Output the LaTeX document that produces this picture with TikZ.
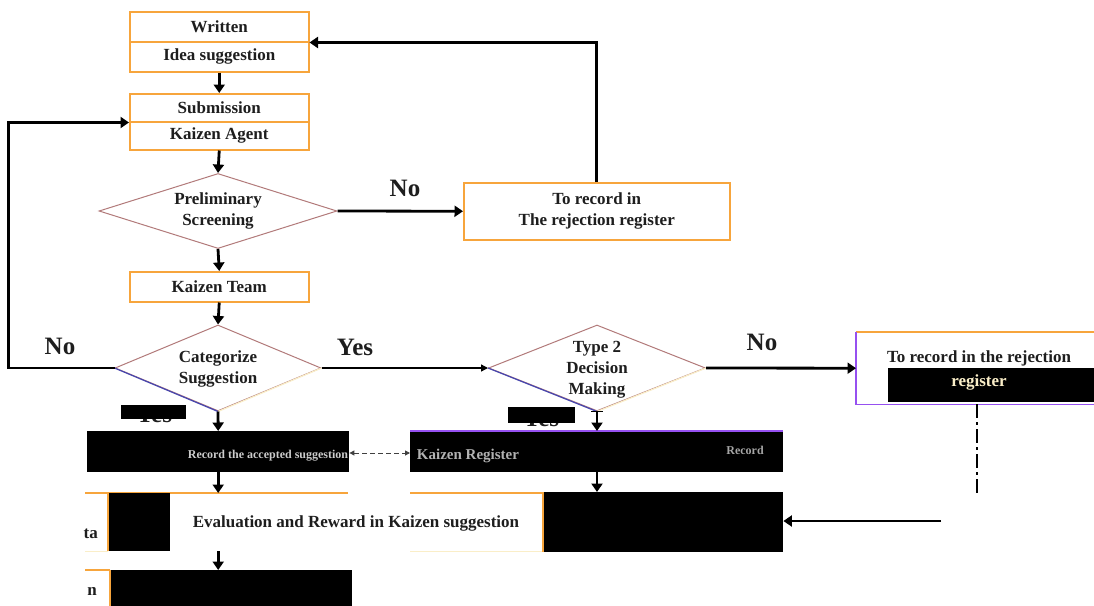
\documentclass[tikz,border=0pt]{standalone}
\usepackage{fontspec}
\setmainfont{Liberation Serif}
\usetikzlibrary{shapes.geometric,arrows.meta}
\definecolor{boxor}{RGB}{247,165,60}
\definecolor{dbrown}{RGB}{178,122,122}
\definecolor{dblue}{RGB}{70,70,175}
\definecolor{purp}{RGB}{150,80,240}
\definecolor{paley}{RGB}{250,238,200}
\definecolor{txt}{RGB}{30,30,30}
\begin{document}
\begin{tikzpicture}[x=1pt,y=-1pt,
  bf/.style={font=\fontsize{17}{21}\selectfont\bfseries},
  box/.style={bf,draw=boxor,line width=1.5pt,minimum width=179pt,anchor=north west,inner sep=0pt,text=txt,align=center},
  dia/.style={shape=diamond,draw=dbrown,line width=1pt,inner sep=0pt},
  dtext/.style={bf,text=txt,align=center,inner sep=0pt},
  flow/.style={line width=2.8pt,-{Triangle[length=8.5pt,width=11pt]}},
  thinflow/.style={line width=1.4pt,-{Triangle[length=7pt,width=7pt]}},
  lbl/.style={font=\fontsize{25}{27}\selectfont\bfseries,text=txt,inner sep=0pt},
  blk/.style={fill=black,draw=none,anchor=north west,inner sep=0pt},
  dashdotline/.style={line width=2pt,dash pattern=on 14pt off 4pt on 3pt off 4pt},
  dbl/.style={line width=1pt,black!75,dash pattern=on 5pt off 3pt,{Triangle[length=5pt,width=5pt]}-{Triangle[length=5pt,width=5pt]}},
]
\path[use as bounding box] (0,0) rectangle (1094,605);
\clip (0,0) rectangle (1094,605);
\fill[white] (0,0) rectangle (1094,605);

% top column
\node[box,minimum height=30pt] (wr) at (129,11) {Written};
\node[box,minimum height=30pt] (id) at (129,41) {Idea suggestion};
\node[box,minimum height=28pt] (sub) at (129,93) {Submission};
\node[box,minimum height=28pt] (ka) at (129,121) {Kaizen Agent};
\node[dia,minimum width=238pt,minimum height=75pt] (ps) at (218,211) {};
\node[dtext] (pst) at (ps.center) {Preliminary\\Screening};
\node[box,minimum height=30pt] (kt) at (129,271) {Kaizen Team};
\node[box,minimum width=266pt,minimum height=57pt] (rej) at (463,182) {To record in\\The rejection register};

% decision diamonds
\node[dia,minimum width=206pt,minimum height=86pt] (cat) at (218,368) {};
\draw[dblue,line width=1.2pt] (cat.west) -- (cat.south);
\draw[paley,line width=1.2pt] (cat.south) -- (cat.east);
\node[dtext] (catt) at (218,369) {Categorize\\Suggestion};
\node[dia,minimum width=217pt,minimum height=86pt] (t2) at (597,368) {};
\draw[dblue,line width=1.2pt] (t2.west) -- (t2.south);
\draw[paley,line width=1.2pt] (t2.south) -- (t2.east);
\node[dtext] (t2t) at (597,370) {Type 2\\Decision\\Making};

% right rejection box
\node[bf,minimum width=260pt,minimum height=72pt,anchor=north west,inner sep=0pt] (rr) at (856,332) {};
\node[blk,minimum width=220pt,minimum height=34pt] (rrb) at (888,368) {};
\draw[boxor,line width=1.5pt] (rr.north west) -- (rr.north east);
\draw[purp,line width=1.5pt] (rr.north west) -- (rr.south west) -- (rr.south east);
\node[dtext] (rrt1) at (979,358) {To record in the rejection};
\node[dtext,text=paley] (rrt2) at (979,382) {register};

% row 1
\node[blk,minimum width=262pt,minimum height=41pt] (r1l) at (87,431) {};
\node[font=\fontsize{12}{14}\selectfont\bfseries,text=black!20,inner sep=0pt] (r1lt) at (268,456) {Record the accepted suggestion};
\node[blk,minimum width=373pt,minimum height=41pt] (r1r) at (410,431) {};
\draw[purp,line width=1.5pt] (r1r.north west) -- (r1r.north east);
\node[font=\fontsize{15}{17}\selectfont\bfseries,text=black!30,inner sep=0pt] (r1rt) at (468,456) {Kaizen Register};
\node[font=\fontsize{12}{14}\selectfont\bfseries,text=black!35,inner sep=0pt] (r1rt2) at (745,450) {Record};

% row 2
\node[minimum width=263pt,minimum height=58pt,anchor=north west,inner sep=0pt] (ev) at (85,493) {};
\draw[boxor,line width=1.5pt] (ev.north west) -- (ev.north east);
\draw[boxor,line width=1.5pt] (410,493) -- (543,493);
\draw[paley,line width=1pt] (85,551) -- (108,551);
\draw[paley,line width=1pt] (410,551) -- (543,551);
\node[blk,minimum width=62pt,minimum height=58pt] (b2l) at (108,493) {};
\draw[boxor,line width=1.5pt] (b2l.north west) -- (b2l.south west);
\node[bf,text=txt,inner sep=0pt,anchor=east] (tat) at (98,534) {ta};
\node[bf,text=txt,inner sep=0pt] (evt) at (356,523) {Evaluation and Reward in Kaizen suggestion};
\node[blk,minimum width=240pt,minimum height=60pt] (b2r) at (543,492) {};
\draw[boxor,line width=1.5pt] (b2r.north west) -- (b2r.south west);

% row 3
\draw[boxor,line width=1.5pt] (85,570) -- (110,570);
\node[blk,minimum width=242pt,minimum height=36pt] (b3) at (110,570) {};
\draw[boxor,line width=1.5pt] (b3.north west) -- (b3.south west);
\node[bf,text=txt,inner sep=0pt,anchor=east] (nt) at (97,591) {n};

% connectors
\draw[flow] (id.south) -- (sub.north);
\draw[flow] (ka.south) -- (ps.north);
\draw[flow] (ps.south) -- (kt.north);
\draw[flow] (kt.south) -- (cat.north);
\draw[flow] (ps.east) -- (rej.west);
\draw[flow] (rej.north) |- (wr.south east);
\draw[flow] (cat.west) -- ++(-106,0) |- (sub.south west);
\draw[thinflow] (cat.east) -- (t2.west);
\draw[flow] (t2.east) -- (rr.west);
\draw[flow] (cat.south) -- (r1l.north);
\draw[flow] (t2.south) -- (t2.south |- r1r.north);
\draw[line width=1.5pt] ([xshift=-6pt]t2.south) -- ([xshift=6pt]t2.south);
\draw[flow] (r1l.south) -- (r1l.south |- ev.north);
\draw[flow] (t2.south |- r1r.south) -- (t2.south |- b2r.north);
\draw[flow] (r1l.south |- ev.south) -- (r1l.south |- b3.north);
\coordinate (dy) at (0,453);
\draw[dbl] (r1l.east |- dy) -- (r1r.west |- dy);
\coordinate (dd) at (977,493);
\draw[dashdotline] (rr.south -| dd) -- (dd);
\coordinate (ae) at (941,521);
\draw[flow] (ae) -- (b2r.east |- ae);

% labels
\node[lbl] (no1) at (405,188) {No};
\node[lbl] (no2) at (60,346) {No};
\node[lbl] (yes1) at (355,347) {Yes};
\node[lbl] (no3) at (762,342) {No};
\node[lbl] (yes2) at (154,414) {Yes};
\node[blk,minimum width=65pt,minimum height=14pt] (yb1) at (121,405) {};
\node[lbl] (yes3) at (541,418) {Yes};
\node[blk,minimum width=67pt,minimum height=16pt] (yb2) at (508,407) {};
\end{tikzpicture}
\end{document}
